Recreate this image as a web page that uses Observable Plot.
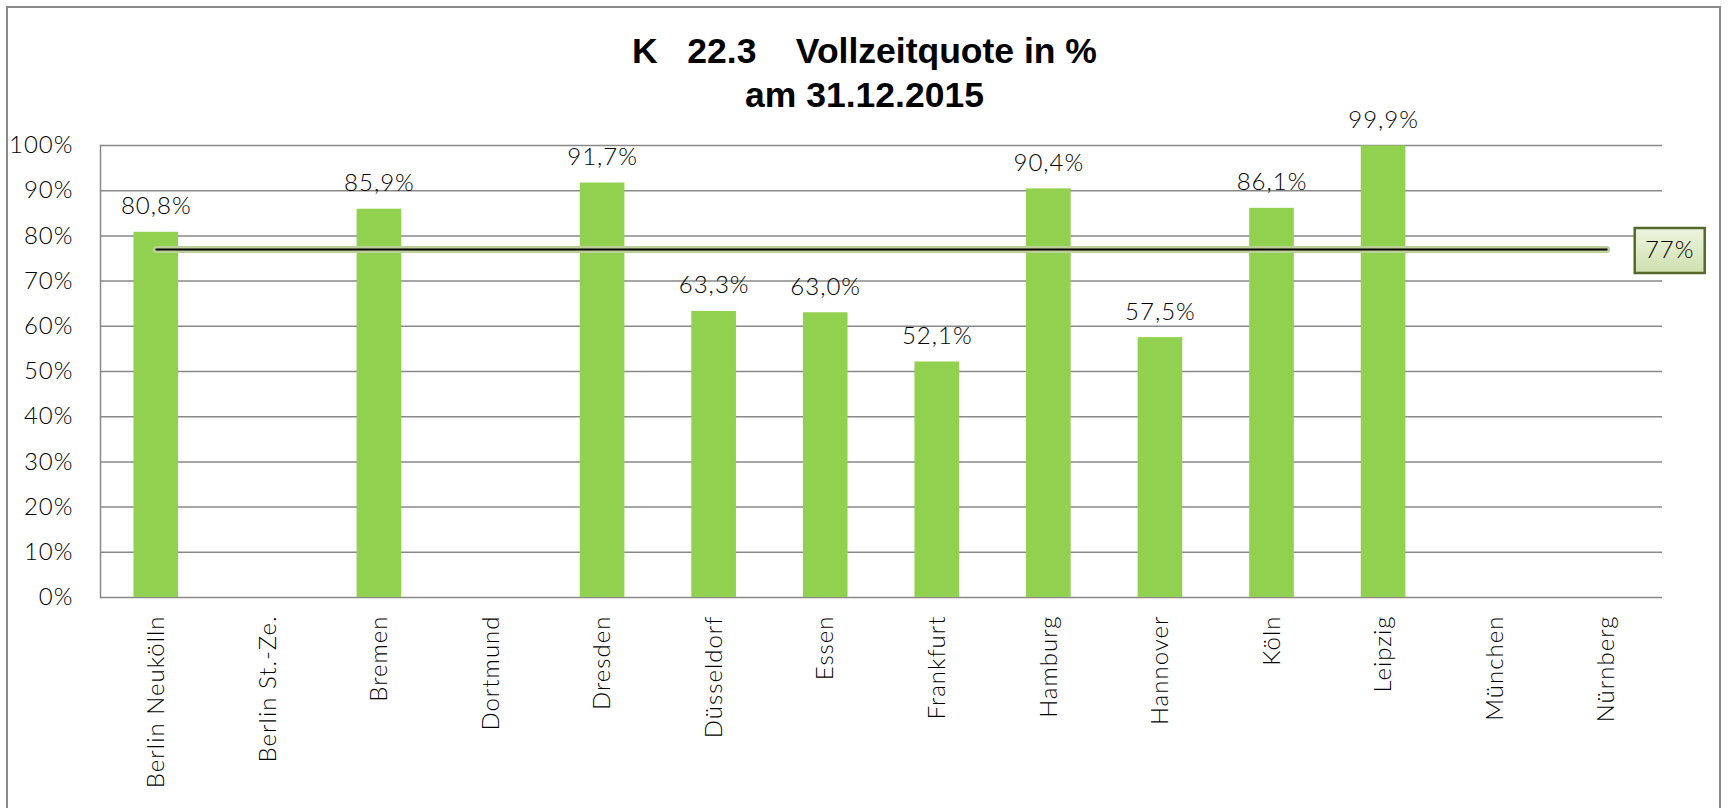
<!DOCTYPE html>
<html>
<head>
<meta charset="utf-8">
<script src="https://cdn.jsdelivr.net/npm/d3@7"></script>
<script src="https://cdn.jsdelivr.net/npm/@observablehq/plot@0.6"></script>
<style>
  html, body { margin: 0; padding: 0; background: #fff; }
  body { width: 1729px; height: 808px; overflow: hidden; position: relative; }
  #frame { position: absolute; left: 6px; top: 6px; width: 1715px; height: 900px; border: 2px solid #8a8a8a; box-sizing: border-box; }
  #title { position: absolute; left: 0; top: 29px; width: 1729px; text-align: center; font-family: "Liberation Sans", Arial, sans-serif; font-weight: bold; font-size: 35.5px; line-height: 44px; white-space: pre; color: #000; }
  #chart { position: absolute; left: 0; top: 125px; }
  #chart svg text { font-weight: 300; letter-spacing: 1px; }
</style>
</head>
<body>
<div id="frame"></div>
<div id="title">K   22.3    Vollzeitquote in %
am 31.12.2015</div>
<div id="chart"></div>
<script>
const cities = ["Berlin Neukölln","Berlin St.-Ze.","Bremen","Dortmund","Dresden","Düsseldorf","Essen","Frankfurt","Hamburg","Hannover","Köln","Leipzig","München","Nürnberg"];
const values = [80.8, null, 85.9, null, 91.7, 63.3, 63.0, 52.1, 90.4, 57.5, 86.1, 99.9, null, null];
const target = 77;
const yTicks = [0, 10, 20, 30, 40, 50, 60, 70, 80, 90, 100];

const data = cities.map((c, i) => ({city: c, value: values[i]})).filter(d => d.value != null);
const refLine = [{city: cities[0], v: target}, {city: cities[cities.length - 1], v: target}];
const refLabel = [{city: cities[cities.length - 1], v: target, t: target + "%"}];
const fmt = v => v.toFixed(1).replace(".", ",") + "%";

const boxSymbol = {
  draw(ctx) {
    const w = 35, h = 22.5;
    ctx.moveTo(-w, -h); ctx.lineTo(w, -h); ctx.lineTo(w, h); ctx.lineTo(-w, h); ctx.closePath();
  }
};

const chart = Plot.plot({
  width: 1729,
  height: 683,
  marginTop: 20,
  marginBottom: 211,
  marginLeft: 100,
  marginRight: 67,
  style: {fontFamily: "Lato, 'Open Sans', sans-serif", fontSize: "24px", color: "#000", background: "transparent", overflow: "visible"},
  x: {domain: cities, paddingInner: 0.6, paddingOuter: 0.3, align: 0.5, round: false, label: null},
  y: {domain: [0, 100], ticks: yTicks, label: null},
  marks: [
    Plot.gridY(yTicks, {stroke: "#898989", strokeOpacity: 1, strokeWidth: 1.5}),
    Plot.frame({anchor: "left", stroke: "#898989", strokeWidth: 1.5}),
    Plot.barY(data, {x: "city", y: "value", fill: "#92d050"}),
    Plot.line(refLine, {x: "city", y: "v", stroke: "#bccf98", strokeWidth: 7, strokeLinecap: "round"}),
    Plot.line(refLine, {x: "city", y: "v", stroke: "#000", strokeWidth: 2}),
    Plot.text(data, {x: "city", y: "value", text: d => fmt(d.value), lineAnchor: "bottom", dy: -18, fill: "#000", fontSize: 24}),
    Plot.dot(refLabel, {x: "city", y: "v", symbol: boxSymbol, r: 5, dx: 63, dy: 1, fill: "url(#boxgrad)", stroke: "#55692a", strokeWidth: 2.5}),
    Plot.text(refLabel, {x: "city", y: "v", text: "t", dx: 63, dy: 1, fill: "#000", fontSize: 24}),
    Plot.axisY({tickSize: 0, tickPadding: 27, tickFormat: d => d + "%", fontSize: 24}),
    Plot.axisX({tickSize: 0, tickRotate: -90, tickPadding: 18, label: null, fontSize: 24})
  ]
});

const defs = d3.select(chart).insert("defs", ":first-child");
const g = defs.append("linearGradient").attr("id", "boxgrad").attr("x1", 0).attr("y1", 0).attr("x2", 0).attr("y2", 1);
g.append("stop").attr("offset", "0%").attr("stop-color", "#eef5e0");
g.append("stop").attr("offset", "100%").attr("stop-color", "#cfdfae");

document.getElementById("chart").appendChild(chart);
</script>
</body>
</html>
